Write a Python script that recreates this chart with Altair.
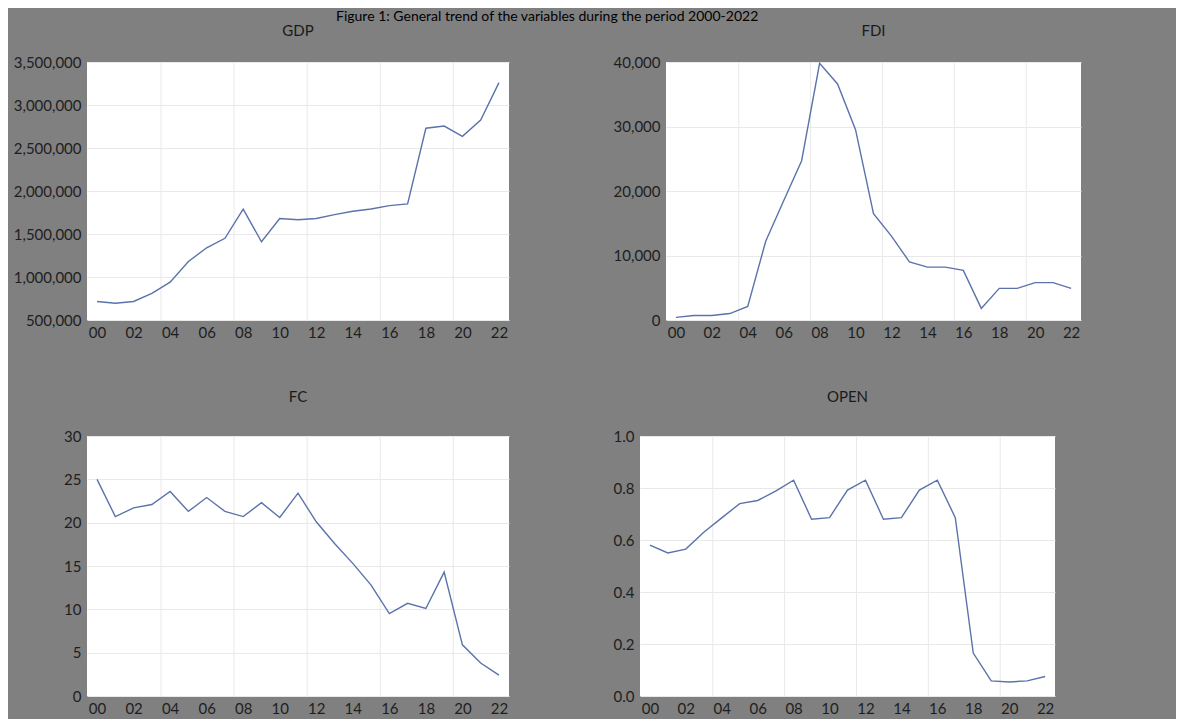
import altair as alt
import pandas as pd

years = list(range(0, 23))
gdp = [715000, 695000, 715000, 810000, 940000, 1180000, 1340000, 1450000, 1790000, 1410000,
       1680000, 1665000, 1680000, 1725000, 1765000, 1790000, 1830000, 1850000, 2730000, 2755000,
       2635000, 2825000, 3260000]
fdi = [400, 700, 700, 1000, 2100, 12200, 18500, 24700, 39800, 36600,
       29500, 16500, 13000, 9000, 8200, 8200, 7700, 1800, 4900, 4900,
       5800, 5800, 4900]
fc = [25.0, 20.7, 21.7, 22.1, 23.6, 21.3, 22.9, 21.3, 20.7, 22.3,
      20.6, 23.4, 20.1, 17.6, 15.3, 12.8, 9.5, 10.7, 10.1, 14.3,
      5.9, 3.8, 2.4]
opn = [0.580, 0.550, 0.565, 0.630, 0.685, 0.740, 0.752, 0.788, 0.830, 0.680,
       0.686, 0.792, 0.830, 0.680, 0.686, 0.792, 0.830, 0.686, 0.165, 0.058,
       0.054, 0.058, 0.075]

grid_years = [3.5, 7.5, 11.5, 15.5, 19.5]
x_ticks = list(range(0, 23, 2))

LINE = "#5b73aa"
GRID = "#e9e9e9"
FONT = "Lato"

def panel(name, values, domain, ticks, fmt, w, h, title_offset):
    df = pd.DataFrame({"year": years, "value": values})
    gdf = pd.DataFrame({"g": grid_years})
    xs = alt.Scale(domain=[-0.55, 22.55], nice=False, zero=False)
    ys = alt.Scale(domain=domain, nice=False, zero=False)
    xaxis = alt.Axis(values=x_ticks, grid=False, ticks=False, domain=False,
                     labelExpr="datum.value < 10 ? '0' + datum.value : '' + datum.value",
                     title=None, labelPadding=5)
    line = alt.Chart(df).mark_line(color=LINE, strokeWidth=1.4).encode(
        x=alt.X("year:Q", scale=xs, axis=xaxis),
        y=alt.Y("value:Q", scale=ys,
                axis=alt.Axis(values=ticks, format=fmt, grid=True, gridColor=GRID,
                              ticks=False, domain=False, title=None, labelPadding=6)),
    )
    grid = alt.Chart(gdf).mark_rule(color=GRID, strokeWidth=1).encode(
        x=alt.X("g:Q", scale=xs, axis=xaxis)
    )
    return alt.layer(grid, line).properties(
        width=w, height=h,
        title=alt.TitleParams(name, offset=title_offset, fontSize=15, font=FONT,
                              fontWeight="normal", color="#1a1a1a"),
    )

p1 = panel("GDP", gdp, [500000, 3500000], list(range(500000, 3500001, 500000)), ",d", 422, 258, 16)
p2 = panel("FDI", fdi, [0, 40000], list(range(0, 40001, 10000)), ",d", 415, 258, 16)
p3 = panel("FC", fc, [0, 30], list(range(0, 31, 5)), "d", 422, 260, 24)
p4 = panel("OPEN", opn, [0, 1.0], [0, 0.2, 0.4, 0.6, 0.8, 1.0], ".1f", 415, 260, 24)

row1 = alt.hconcat(p1, p2, spacing=104)
row2 = alt.hconcat(p3, p4, spacing=104)

chart = alt.vconcat(row1, row2, spacing=50).properties(
    background="#808080",
    padding={"left": 5, "top": 2, "right": 95, "bottom": 3},
    title=alt.TitleParams("Figure 1: General trend of the variables during the period 2000-2022",
                          fontSize=14, font=FONT, fontWeight="normal", color="#000000",
                          anchor="middle", offset=0),
).configure_view(
    fill="white", stroke=None
).configure_axis(
    labelFont=FONT, labelFontSize=15, labelColor="#1e1e1e"
)

chart.save("out.html", embed_options={"renderer": "svg", "actions": False})
